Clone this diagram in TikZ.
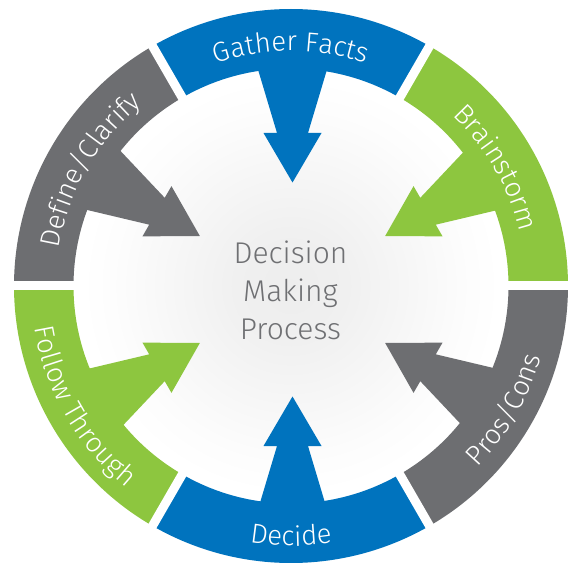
\documentclass[tikz,border=0pt]{standalone}
\usepackage{fontspec}
\setmainfont{Fira Sans Light}
\usetikzlibrary{decorations.text}
\definecolor{cblue}{HTML}{0073BE}
\definecolor{cgreen}{HTML}{8DC63F}
\definecolor{cgray}{HTML}{6D6E71}
\definecolor{ctext}{HTML}{6F7073}
\pgfdeclareradialshading{diskshade}{\pgfpoint{0bp}{0bp}}{color(0bp)=(black!7); color(6bp)=(black!6); color(13bp)=(black!3.5); color(20bp)=(black!1); color(24bp)=(white); color(50bp)=(white)}
\tikzset{
  ringtext/.style={decorate, decoration={text along path, text align=center,
      text={|\color{white}\fontsize{27.5}{32}\selectfont|#1}}},
}
\begin{document}
\begin{tikzpicture}[x=1pt,y=1pt]
\useasboundingbox (-291,-278) rectangle (278,286);
\fill[white] (-291,-278) rectangle (278,286);
% inner disk
\shade[shading=diskshade] (0,0) circle (218);
% ring segments
\foreach \a/\c in {90/cblue, 30/cgreen, -30/cgray, -90/cblue, 210/cgreen, 150/cgray}{
  \fill[\c] ({\a-30}:217.5) arc[start angle={\a-30}, end angle={\a+30}, radius=217.5]
     -- ({\a+30}:277) arc[start angle={\a+30}, end angle={\a-30}, radius=277] -- cycle;
}
% gaps
\foreach \g in {0,60,...,300}{
  \draw[white, line width=9] (\g:216) -- (\g:285);
}
% arrows
\foreach \a/\c in {90/cblue, 30/cgreen, -30/cgray, -90/cblue, 210/cgreen, 150/cgray}{
  \fill[\c, shift={(1.5,-3.5)}, rotate=\a] (107,0) -- (156.5,29) -- (156.5,15.5) -- (245,42)
     -- (245,-42) -- (156.5,-15.5) -- (156.5,-29) -- cycle;
}
% ring labels (top: clockwise, bottom: counter-clockwise)
\path[ringtext={Gather Facts}] (150:235) arc[start angle=150, end angle=30, radius=235];
\path[ringtext={Brainstorm}] (90:235) arc[start angle=90, end angle=-30, radius=235];
\path[ringtext={Define/Clarify}] (210:235) arc[start angle=210, end angle=90, radius=235];
\path[ringtext={Decide}] (210:260) arc[start angle=210, end angle=330, radius=260];
\path[ringtext={Pros/Cons}] (-90:260) arc[start angle=-90, end angle=30, radius=260];
\path[ringtext={Follow Through}] (150:260) arc[start angle=150, end angle=270, radius=260];
% center title
\node[align=center, text=ctext, font=\fontsize{30}{38}\selectfont, inner sep=0pt] (title) at (-0.5,-4.5) {Decision\\Making\\Process};
\end{tikzpicture}
\end{document}
